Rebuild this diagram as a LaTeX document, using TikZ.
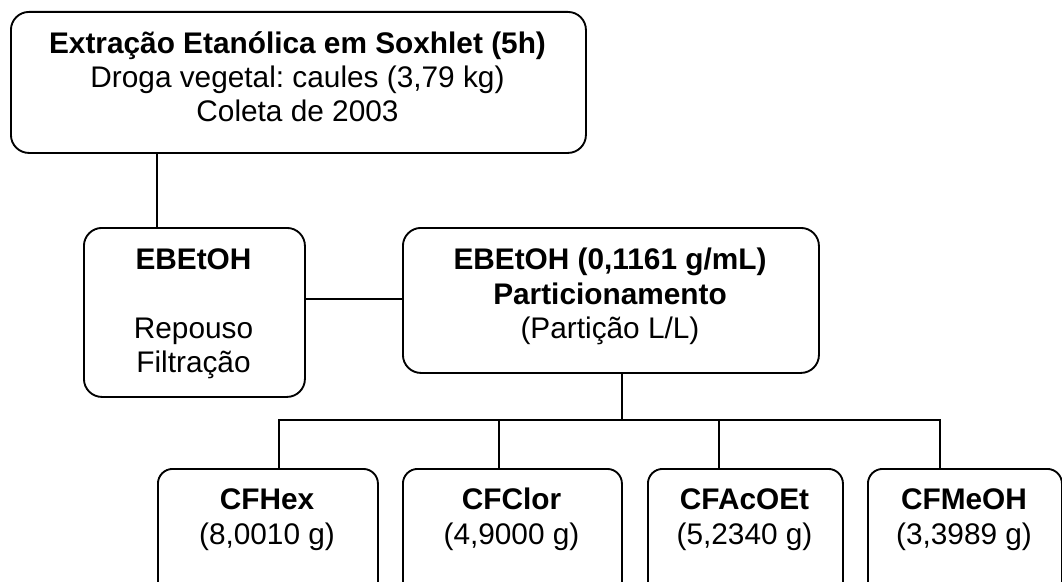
\documentclass[tikz,border=0pt]{standalone}
\usepackage{fontspec}
\setmainfont{Liberation Sans}
\frenchspacing
\begin{document}
\begin{tikzpicture}[x=0.75pt,y=-0.75pt,
  box/.style={draw, line width=1.4pt, rounded corners=13.5pt, inner sep=0pt, anchor=north west},
  sbox/.style={box, rounded corners=11pt},
  ln/.style={line width=1.4pt},
  tx/.style={anchor=base, inner sep=0pt, font=\fontsize{22.35}{26}\selectfont},
  tb/.style={anchor=base, inner sep=0pt, font=\fontsize{22.35}{26}\selectfont\bfseries}]
\useasboundingbox (0,0) rectangle (1062,581);
\clip (0,0) rectangle (1062,581);
% top box
\node[box, minimum width=431.25pt, minimum height=105.75pt] (top) at (10,11) {};
\node[tb] (t1) at (297.5,54) {Extração Etanólica em Soxhlet (5h)};
\node[tx] (t2) at (297.5,88) {Droga vegetal: caules (3,79 kg)};
\node[tx] (t3) at (297.5,122) {Coleta de 2003};
% EBEtOH box
\node[box, minimum width=165.75pt, minimum height=126.75pt] (ebe) at (83,227) {};
\node[tb] (e1) at (193.5,269) {EBEtOH};
\node[tx] (e2) at (193.5,338) {Repouso};
\node[tx] (e3) at (193.5,372) {Filtração};
% partition box
\node[box, minimum width=312pt, minimum height=108.75pt] (part) at (402,227) {};
\node[tb] (p1) at (610,269) {EBEtOH (0,1161 g/mL)};
\node[tb] (p2) at (610,304) {Particionamento};
\node[tx] (p3) at (610,338) {(Partição L/L)};
% fractions
\node[sbox, minimum width=165pt, minimum height=99pt] (f1) at (157,468) {};
\node[sbox, minimum width=164.25pt, minimum height=99pt] (f2) at (402,468) {};
\node[sbox, minimum width=146.25pt, minimum height=99pt] (f3) at (647,468) {};
\node[sbox, minimum width=145.5pt, minimum height=99pt] (f4) at (867,468) {};
\node[tb] (f1a) at (267,509) {CFHex};
\node[tx] (f1b) at (267,544) {(8,0010 g)};
\node[tb] (f2a) at (511.5,509) {CFClor};
\node[tx] (f2b) at (511.5,544) {(4,9000 g)};
\node[tb] (f3a) at (744.5,509) {CFAcOEt};
\node[tx] (f3b) at (744.5,544) {(5,2340 g)};
\node[tb] (f4a) at (964,509) {CFMeOH};
\node[tx] (f4b) at (964,544) {(3,3989 g)};
% connectors
\coordinate (a) at (157,0);
\draw[ln] (top.south -| a) -- (ebe.north -| a);
\coordinate (b) at (0,299);
\draw[ln] (ebe.east |- b) -- (part.west |- b);
\coordinate (split) at (622,420);
\draw[ln] (part.south -| split) -- (split);
\coordinate (d1) at (279,420);
\coordinate (d2) at (499,420);
\coordinate (d3) at (719,420);
\coordinate (d4) at (940,420);
\draw[ln] (f1.north -| d1) -- (d1) -- (d4) -- (f4.north -| d4);
\draw[ln] (d2) -- (f2.north -| d2);
\draw[ln] (d3) -- (f3.north -| d3);
\end{tikzpicture}
\end{document}
